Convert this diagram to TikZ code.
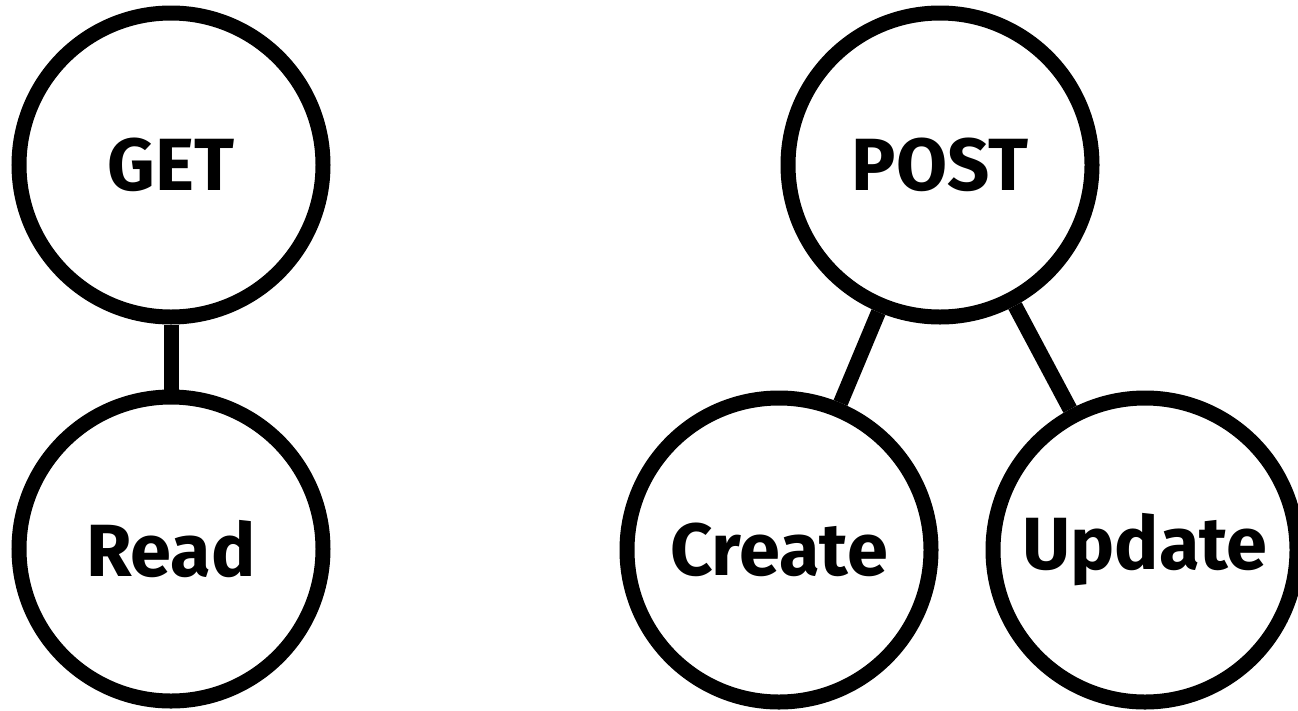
\documentclass[tikz,border=0pt]{standalone}
\usepackage{fontspec}
\setmainfont{Fira Sans}
\begin{document}
\begin{tikzpicture}[x=1pt,y=-1pt,
    verb/.style={draw, circle, line width=15pt, minimum size=304pt, inner sep=0pt,
      font=\fontsize{74}{80}\selectfont\bfseries},
    link/.style={line width=15pt}]
	\useasboundingbox (0,0) rectangle (1298,710);

            \node[verb] (get) at (171,165) {GET};
            \node[verb] (read) at (171,549) {Read};

            \node[verb] (post) at (940,165) {POST};
            \node[verb] (create) at (779,550) {Create};
            \node[verb] (update) at (1145,550) {Update};

            \draw[link] (get) -- (read);
            \foreach \n in {create,update}{
              \draw[link] (post) -- (\n);
            }

          %\node at (600,355) {};
        \end{tikzpicture}
\end{document}
